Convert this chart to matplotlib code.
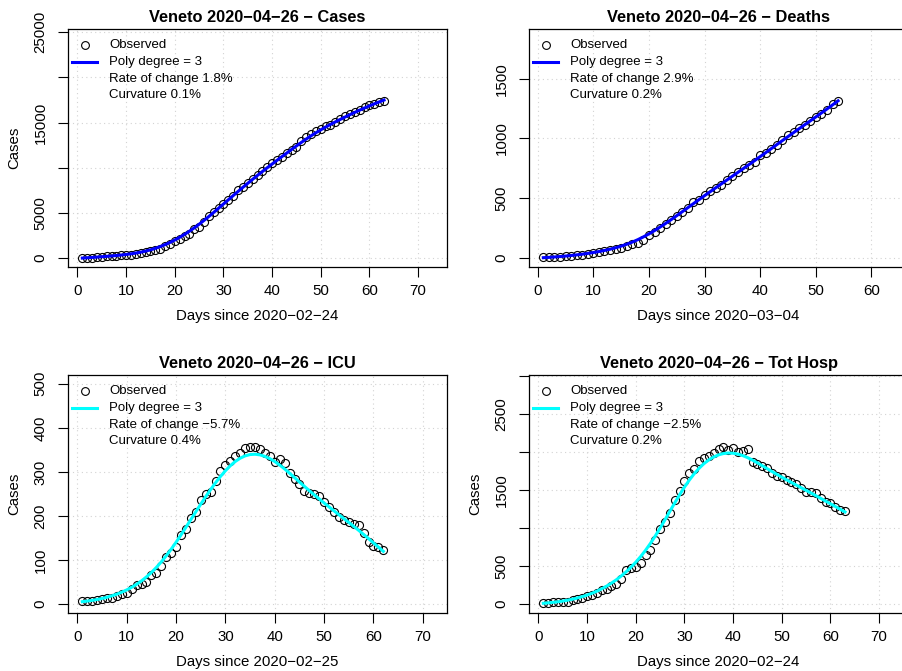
import numpy as np
import matplotlib.pyplot as plt

plt.rcParams['font.family'] = ['Liberation Sans', 'DejaVu Sans']

MINUS = '\u2212'
region = 'Veneto'
report_date = '2020' + MINUS + '04' + MINUS + '26'

# observed series, one value per day
cases = [33, 43, 71, 111, 151, 191, 263, 273, 307, 360, 407, 488, 543, 670, 744, 856,
         1023, 1384, 1595, 1937, 2172, 2473, 2704, 3214, 3484, 4031, 4617, 5122, 5505,
         5948, 6442, 6935, 7497, 7930, 8358, 8724, 9155, 9625, 10111, 10574, 10824,
         11226, 11588, 11925, 12317, 12930, 13421, 13789, 14075, 14276, 14624, 14770,
         15079, 15374, 15692, 15936, 16165, 16403, 16690, 16934, 17115, 17289, 17421]
deaths = [6, 8, 10, 12, 15, 19, 23, 28, 35, 45, 51, 59, 67, 77, 89, 101, 115, 131, 155,
          194, 222, 255, 285, 315, 350, 385, 420, 470, 490, 525, 560, 590, 615, 650, 690,
          720, 752, 775, 800, 858, 880, 915, 945, 985, 1025, 1055, 1085, 1110, 1145, 1180,
          1205, 1240, 1290, 1315]
icu = [7, 8, 8, 10, 11, 13, 15, 19, 24, 25, 34, 43, 45, 51, 67, 70, 87, 107, 117, 129,
       156, 171, 195, 209, 237, 250, 254, 280, 302, 315, 325, 336, 344, 355, 357, 357,
       353, 344, 335, 323, 330, 321, 297, 285, 272, 257, 252, 250, 246, 231, 220, 209,
       197, 190, 186, 182, 179, 162, 142, 132, 130, 124]
tot_hosp = [17, 22, 24, 27, 31, 33, 61, 63, 75, 110, 127, 149, 184, 206, 241, 259, 329,
            447, 478, 491, 548, 645, 711, 842, 987, 1083, 1193, 1368, 1487, 1623, 1719,
            1772, 1882, 1917, 1947, 1991, 2035, 2070, 2026, 2057, 2004, 2013, 2039, 1873,
            1838, 1816, 1785, 1719, 1689, 1675, 1632, 1610, 1575, 1522, 1469, 1478, 1456,
            1390, 1346, 1325, 1281, 1237, 1224]

series_names = ['Cases', 'Deaths', 'ICU', 'Tot Hosp']
series_values = [cases, deaths, icu, tot_hosp]
start_dates = ['2020-02-24', '2020-03-04', '2020-02-25', '2020-02-24']
rates = ['1.8%', '2.9%', MINUS + '5.7%', MINUS + '2.5%']
curvatures = ['0.1%', '0.2%', '0.4%', '0.2%']
fit_colors = ['#0000FF', '#0000FF', '#00FFFF', '#00FFFF']
y_labels = ['Cases', '', 'Cases', 'Cases']

y_ticks = [[0, 5000, 10000, 15000, 20000, 25000],
           [0, 500, 1000, 1500],
           [0, 100, 200, 300, 400, 500],
           [0, 500, 1000, 1500, 2000, 2500, 3000]]
y_tick_labels = [['0', '5000', '', '15000', '', '25000'],
                 ['0', '500', '1000', '1500'],
                 ['0', '100', '200', '300', '400', '500'],
                 ['0', '500', '', '1500', '', '2500', '']]
x_ticks = [0, 10, 20, 30, 40, 50, 60, 70]

W, H = 902, 671
# panel boxes in pixels: left, top
boxes = [(68.3, 29), (529.3, 29), (68.3, 375), (529.3, 375)]
box_w, box_h = 378.4, 238.0


def smooth_fit(days, values, bw=3.5):
    # local weighted linear regression around each day
    fitted = []
    for d in days:
        w = np.exp(-0.5 * ((days - d) / bw) ** 2)
        coef = np.polyfit(days - d, values, 1, w=np.sqrt(w))
        fitted.append(coef[-1])
    return np.array(fitted)


def add_legend(ax, color, rate, curv):
    t = ax.transAxes
    rows = [0.933, 0.862, 0.792, 0.722]
    ax.plot([0.044], [rows[0]], 'o', mfc='none', mec='black', ms=5.6, mew=0.8,
            transform=t)
    ax.plot([0.009, 0.075], [rows[1], rows[1]], color=color, lw=2.2, transform=t)
    texts = ['Observed', 'Poly degree = 3', 'Rate of change ' + rate, 'Curvature ' + curv]
    for txt, y in zip(texts, rows):
        ax.text(0.108, y, txt, transform=t, fontsize=9.5, va='center')


fig = plt.figure(figsize=(W / 100, H / 100), dpi=100)

for i, name in enumerate(series_names):
    left, top = boxes[i]
    ax = fig.add_axes([left / W, 1 - (top + box_h) / H, box_w / W, box_h / H])
    y = np.array(series_values[i], dtype=float)
    days = np.arange(1, len(y) + 1)

    ax.plot(days, y, 'o', mfc='none', mec='black', ms=5.8, mew=0.8, zorder=3)
    ax.plot(days, smooth_fit(days, y), color=fit_colors[i], lw=2.2, zorder=4)

    ax.set_xticks(x_ticks)
    ax.set_yticks(y_ticks[i], y_tick_labels[i])

    # R style limits: xlim c(1, n + 10), ylim c(0, 1.4 * max), 4% padding
    x_lo, x_hi = 1, len(y) + 10
    y_lo, y_hi = 0, 1.4 * y.max()
    ax.set_xlim(x_lo - 0.04 * (x_hi - x_lo), x_hi + 0.04 * (x_hi - x_lo))
    ax.set_ylim(y_lo - 0.04 * (y_hi - y_lo), y_hi + 0.04 * (y_hi - y_lo))

    ax.tick_params(direction='out', length=7, width=0.8, labelsize=10.8)
    ax.tick_params(axis='x', pad=5)
    ax.tick_params(axis='y', pad=8, labelrotation=90)
    plt.setp(ax.get_yticklabels(), va='center')
    ax.grid(True, color='#D3D3D3', linestyle=(0, (1, 3)), linewidth=0.8)
    ax.set_axisbelow(True)
    for s in ax.spines.values():
        s.set_linewidth(0.9)

    ax.set_title(region + ' ' + report_date + ' ' + MINUS + ' ' + name,
                 fontweight='bold', fontsize=11.8, pad=5)
    ax.set_xlabel('Days since ' + start_dates[i].replace('-', MINUS), fontsize=10.8,
                  labelpad=8)
    if y_labels[i]:
        ax.set_ylabel(y_labels[i], fontsize=10.8, labelpad=9)

    add_legend(ax, fit_colors[i], rates[i], curvatures[i])

fig.savefig('out.png', dpi=100)
